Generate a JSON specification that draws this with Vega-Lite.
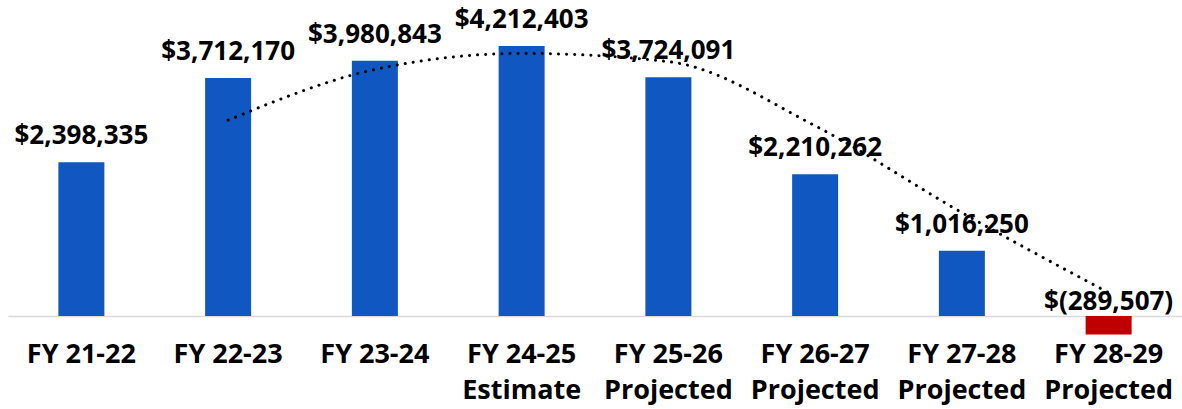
{
  "$schema": "https://vega.github.io/schema/vega-lite/v6.json",
  "width": 1174,
  "height": 336,
  "autosize": {"type": "none"},
  "padding": {"left": 8, "top": 0, "right": 0, "bottom": 73},
  "background": "white",
  "config": {"view": {"stroke": null}, "font": "Open Sans"},
  "data": {
    "values": [
      {"cat": "FY 21-22", "value": 2398335, "trend": null, "label": "$2,398,335"},
      {"cat": "FY 22-23", "value": 3712170, "trend": 3055253, "label": "$3,712,170"},
      {"cat": "FY 23-24", "value": 3980843, "trend": 3846507, "label": "$3,980,843"},
      {"cat": "FY 24-25|Estimate", "value": 4212403, "trend": 4096623, "label": "$4,212,403"},
      {"cat": "FY 25-26|Projected", "value": 3724091, "trend": 3968247, "label": "$3,724,091"},
      {"cat": "FY 26-27|Projected", "value": 2210262, "trend": 2967177, "label": "$2,210,262"},
      {"cat": "FY 27-28|Projected", "value": 1016250, "trend": 1613256, "label": "$1,016,250"},
      {"cat": "FY 28-29|Projected", "value": -289507, "trend": 363372, "label": "$(289,507)"}
    ]
  },
  "encoding": {
    "x": {
      "field": "cat", "type": "nominal", "sort": null,
      "scale": {"paddingInner": 0, "paddingOuter": 0},
      "axis": {
        "title": null, "domain": false, "ticks": false, "labelAngle": 0,
        "labelExpr": "split(datum.label, '|')",
        "labelFont": "Open Sans", "labelFontWeight": "bold", "labelFontSize": 27,
        "labelColor": "#000000", "labelPadding": 5, "labelLineHeight": 36,
        "labelBaseline": "top"
      }
    }
  },
  "layer": [
    {
      "mark": {"type": "bar", "width": 46},
      "encoding": {
        "y": {
          "field": "value", "type": "quantitative",
          "scale": {"domain": [-312000, 4930000], "nice": false, "zero": false},
          "axis": {"values": [0], "grid": true, "gridColor": "#d9d9d9", "gridWidth": 1.5, "domain": false, "ticks": false, "labels": false, "title": null}
        },
        "color": {
          "condition": {"test": "datum.value < 0", "value": "#c00000"},
          "value": "#1057c1"
        }
      }
    },
    {
      "mark": {"type": "line", "color": "#000000", "strokeWidth": 3, "strokeCap": "round", "strokeDash": [0.1, 8], "interpolate": "monotone"},
      "encoding": {
        "y": {"field": "trend", "type": "quantitative"}
      }
    },
    {
      "transform": [{"filter": "datum.value >= 0"}],
      "mark": {"type": "text", "font": "Open Sans", "fontWeight": "bold", "fontSize": 26, "color": "#000000", "baseline": "alphabetic", "dy": -18},
      "encoding": {
        "y": {"field": "value", "type": "quantitative"},
        "text": {"field": "label"}
      }
    },
    {
      "transform": [{"filter": "datum.value < 0"}],
      "mark": {"type": "text", "font": "Open Sans", "fontWeight": "bold", "fontSize": 26, "color": "#000000", "baseline": "alphabetic", "dy": -25},
      "encoding": {
        "y": {"field": "value", "type": "quantitative"},
        "text": {"field": "label"}
      }
    }
  ]
}
